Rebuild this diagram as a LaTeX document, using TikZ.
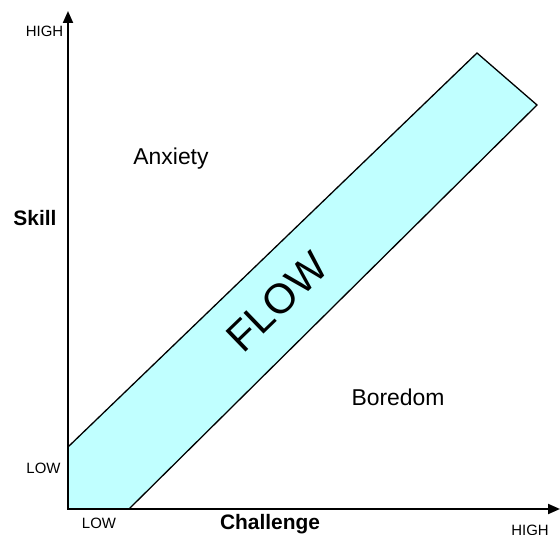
\documentclass[tikz,border=0pt]{standalone}
\usepackage{fontspec}
\setmainfont{Liberation Sans}
\usetikzlibrary{arrows.meta}
\definecolor{flowcyan}{RGB}{192,255,255}

\begin{document}
\begin{tikzpicture}[x=1bp,y=1bp,
  axis/.style={line width=2bp,{Triangle[length=12bp,width=10bp]}-{Triangle[length=12bp,width=10bp]}},
  tick/.style={font=\fontsize{15}{18}\selectfont,anchor=base,inner sep=0pt},
  zone/.style={font=\fontsize{23}{28}\selectfont,anchor=base,inner sep=0pt},
  axislabel/.style={font=\bfseries\fontsize{21}{25}\selectfont,anchor=base,inner sep=0pt}]
\useasboundingbox (0,0) rectangle (560,535);

\coordinate (O) at (68,26);
\coordinate (Ytop) at (68,524);
\coordinate (Xend) at (560,26);

% flow channel
\coordinate (ch-1) at (68,88);
\coordinate (ch-2) at (477,482);
\coordinate (ch-3) at (537,430);
\coordinate (ch-4) at (129,26);
\draw[fill=flowcyan,line width=1.3bp] (O) -- (ch-1) -- (ch-2) -- (ch-3) -- (ch-4) -- cycle;

% axes
\draw[axis] (Ytop) -- (O) -- (Xend);

\node[tick] (y-high) at (44.5,498) {HIGH};
\node[tick] (y-low) at (43.5,61) {LOW};
\node[tick] (x-low) at (99,6.5) {LOW};
\node[tick] (x-high) at (530,-1) {HIGH};

\node[axislabel] (skill) at (35,309) {Skill};
\node[axislabel] (challenge) at (270,5.5) {Challenge};

\node[zone] (anxiety) at (171,370) {Anxiety};
\node[zone] (boredom) at (398,129) {Boredom};
\node[rotate=44,font=\fontsize{42}{50}\selectfont] (flow) at (277,233) {FLOW};
\end{tikzpicture}
\end{document}
